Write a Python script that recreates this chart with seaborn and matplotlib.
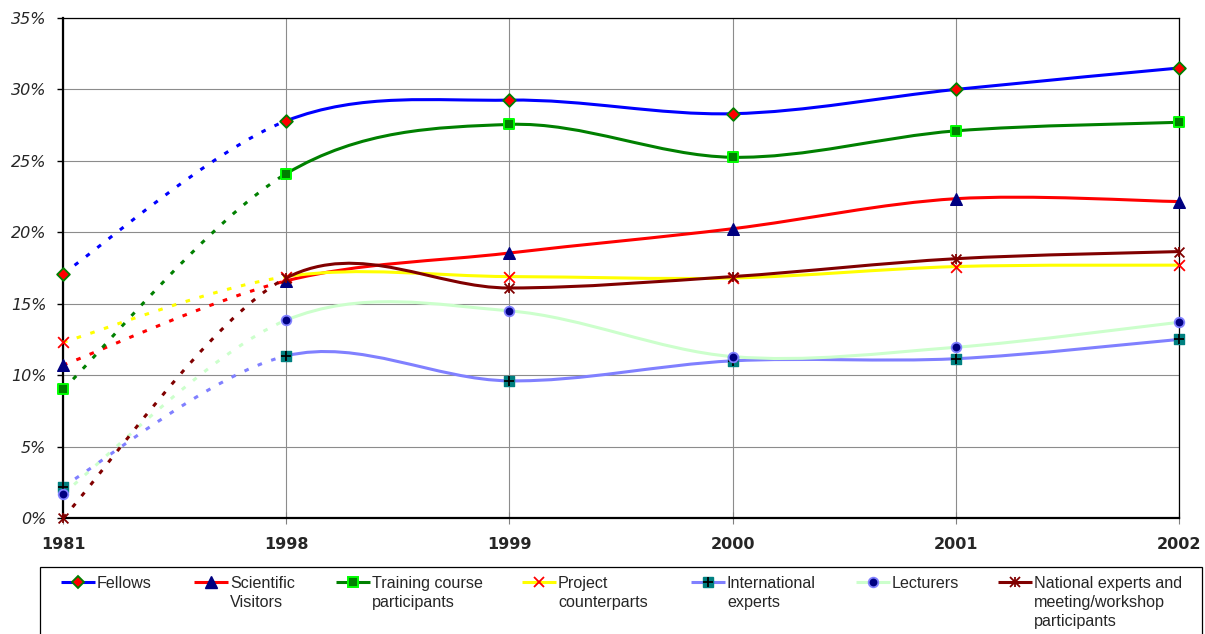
import numpy as np
import matplotlib
matplotlib.use("Agg")
import matplotlib.pyplot as plt
from matplotlib.path import Path
from matplotlib.patches import PathPatch, Rectangle
from matplotlib.lines import Line2D
import seaborn as sns

# ---- data (percent) ----
years = ["1981", "1998", "1999", "2000", "2001", "2002"]
fellows = [17.1, 27.8, 29.25, 28.3, 30.0, 31.5]
scientific_visitors = [10.7, 16.6, 18.55, 20.25, 22.35, 22.15]
training_participants = [9.0, 24.1, 27.55, 25.25, 27.1, 27.7]
project_counterparts = [12.3, 16.9, 16.9, 16.8, 17.6, 17.7]
international_experts = [2.2, 11.35, 9.6, 11.0, 11.15, 12.5]
lecturers = [1.7, 13.85, 14.5, 11.3, 11.95, 13.7]
national_experts = [0.0, 16.8, 16.1, 16.9, 18.15, 18.65]

y_ticks = [0, 5, 10, 15, 20, 25, 30, 35]

labels = [
    ["Fellows"],
    ["Scientific", "Visitors"],
    ["Training course", "participants"],
    ["Project", "counterparts"],
    ["International", "experts"],
    ["Lecturers"],
    ["National experts and", "meeting/workshop", "participants"],
]

# ---- styles: line colour and marker layers (marker, size, face, edge, edge width) ----
styles = [
    ("#0000FF", [("D", 42, "#FF0000", "#008000", 1.3)]),
    ("#FF0000", [("^", 70, "#000080", "#000080", 1.0)]),
    ("#008000", [("s", 52, "#008000", "#00FF00", 1.4)]),
    ("#FFFF00", [("x", 60, "#FF0000", "#FF0000", 1.3)]),
    ("#8080FF", [("s", 50, "#008080", "#008080", 1.0), ("+", 60, "#000000", "#000000", 1.3)]),
    ("#CCFFCC", [("o", 48, "#000080", "#8080FF", 1.3)]),
    ("#800000", [("x", 50, "#800000", "#800000", 1.3), ("|", 60, "#800000", "#800000", 1.3)]),
]

series = [fellows, scientific_visitors, training_participants, project_counterparts,
          international_experts, lecturers, national_experts]

W, H, DPI = 1205, 634, 100
sns.set_style("white")
plt.rcParams["font.family"] = ["DejaVu Sans"]

fig = plt.figure(figsize=(W / DPI, H / DPI), dpi=DPI)
ax = fig.add_axes([63 / W, 1 - 518 / H, (1179 - 63) / W, (518 - 18) / H])

xpos = np.arange(len(years), dtype=float)


def smooth_path(xs, ys, start, stop):
    """Cubic Bezier (Catmull-Rom style) path through the points start..stop."""
    pts = np.column_stack([xs, ys]).astype(float)
    n = len(pts)
    verts = [pts[start]]
    codes = [Path.MOVETO]
    for i in range(start, stop):
        p0 = pts[max(i - 1, 0)]
        p1 = pts[i]
        p2 = pts[i + 1]
        p3 = pts[min(i + 2, n - 1)]
        verts += [p1 + (p2 - p0) / 6.0, p2 - (p3 - p1) / 6.0, p2]
        codes += [Path.CURVE4] * 3
    return Path(verts, codes)


LW = 2.2
for k, (vals, (lc, _)) in enumerate(zip(series, styles)):
    z = 3 + k * 0.1
    dotted = PathPatch(smooth_path(xpos, vals, 0, 1), fill=False, edgecolor=lc, lw=LW,
                       linestyle=(0, (1.5, 3.2)), capstyle="butt", zorder=z)
    solid = PathPatch(smooth_path(xpos, vals, 1, len(vals) - 1), fill=False, edgecolor=lc,
                      lw=LW, capstyle="round", joinstyle="round", zorder=z)
    ax.add_patch(dotted)
    ax.add_patch(solid)

for k, (vals, (_, layers)) in enumerate(zip(series, styles)):
    for j, (m, s, fc, ec, ew) in enumerate(layers):
        if m in ("x", "+", "|"):
            sns.scatterplot(x=xpos, y=vals, marker=m, s=s, color=fc, linewidth=ew,
                            ax=ax, zorder=5 + k * 0.1 + j * 0.01, clip_on=False, legend=False)
        else:
            sns.scatterplot(x=xpos, y=vals, marker=m, s=s, color=fc, edgecolor=ec,
                            linewidth=ew, ax=ax, zorder=5 + k * 0.1 + j * 0.01,
                            clip_on=False, legend=False)

ax.set_xlim(0, len(years) - 1)
ax.set_ylim(0, 35)
ax.set_xticks(xpos)
ax.set_xticklabels(years, fontsize=11.5, fontweight="bold")
ax.set_yticks(y_ticks)
ax.set_yticklabels([f"{v}%" for v in y_ticks], fontsize=11.5, fontstyle="italic")
ax.set_xlabel("")
ax.set_ylabel("")

ax.grid(True, color="#8c8c8c", lw=0.8)
ax.set_axisbelow(True)
for side in ("left", "bottom"):
    ax.spines[side].set_linewidth(1.6)
    ax.spines[side].set_color("black")
for side in ("top", "right"):
    ax.spines[side].set_linewidth(0.9)
    ax.spines[side].set_color("black")
ax.tick_params(axis="y", direction="out", length=4, width=1.0, color="black", pad=8)
ax.tick_params(axis="x", direction="inout", length=8, width=0.8, color="#808080", pad=10)
ax.tick_params(left=True, bottom=True)

# ---- legend panel below the plot ----
def fx(px):
    return px / W


def fy(py):
    return 1 - py / H


fig.add_artist(Rectangle((fx(40), fy(660)), fx(1202) - fx(40), fy(567) - fy(660),
                         transform=fig.transFigure, fill=False, edgecolor="black", lw=0.9,
                         clip_on=False))

text_x = [97, 230, 372, 558, 727, 892, 1034]
row_y = 582
for k, (lab, (lc, layers)) in enumerate(zip(labels, styles)):
    tx = text_x[k]
    fig.add_artist(Line2D([fx(tx - 36), fx(tx - 2)], [fy(row_y), fy(row_y)],
                          transform=fig.transFigure, color=lc, lw=LW, solid_capstyle="butt"))
    for m, s, fc, ec, ew in layers:
        ms = np.sqrt(s)
        if m in ("x", "+", "|"):
            fig.add_artist(Line2D([fx(tx - 19)], [fy(row_y)], transform=fig.transFigure,
                                  marker=m, markersize=ms, color=fc, markeredgewidth=ew,
                                  linestyle="none"))
        else:
            fig.add_artist(Line2D([fx(tx - 19)], [fy(row_y)], transform=fig.transFigure,
                                  marker=m, markersize=ms, markerfacecolor=fc,
                                  markeredgecolor=ec, markeredgewidth=ew, linestyle="none"))
    for li, line in enumerate(lab):
        fig.text(fx(tx), fy(row_y + 5.8 + 19 * li), line, fontsize=11.6,
                 family=["Liberation Sans", "DejaVu Sans"], va="baseline", ha="left")

fig.savefig("out.png", dpi=DPI)
